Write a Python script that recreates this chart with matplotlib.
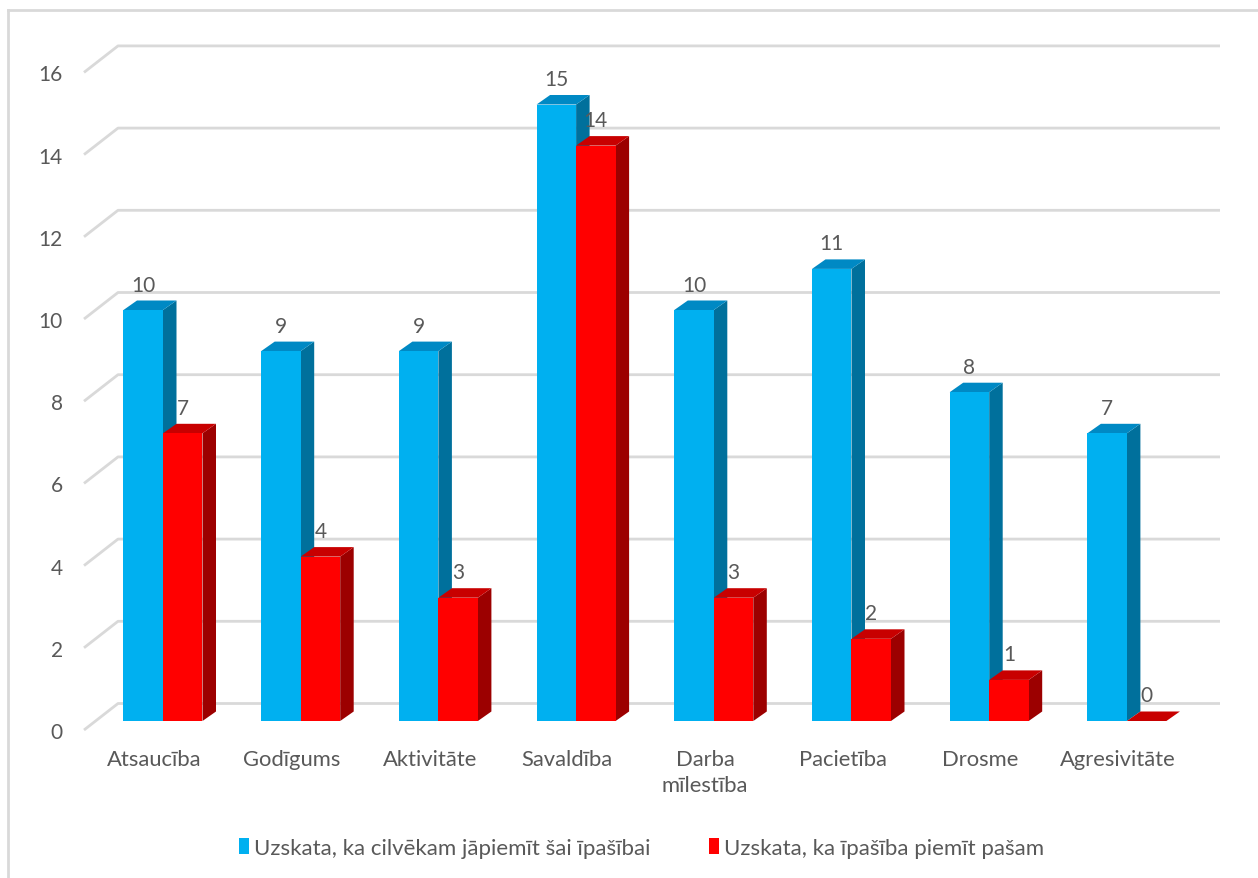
import numpy as np
import matplotlib.pyplot as plt
from matplotlib.patches import Polygon, Patch
from matplotlib.lines import Line2D

# ---------- data ---------- #
categories = ['Atsaucība', 'Godīgums', 'Aktivitāte', 'Savaldība',
              'Darba\nmīlestība', 'Pacietība', 'Drosme', 'Agresivitāte']
should_have = [10, 9, 9, 15, 10, 11, 8, 7]   # Uzskata, ka cilvēkam jāpiemīt šai īpašībai
have_self = [7, 4, 3, 14, 3, 2, 1, 0]         # Uzskata, ka īpašība piemīt pašam
series_names = ['Uzskata, ka cilvēkam jāpiemīt šai īpašībai',
                'Uzskata, ka īpašība piemīt pašam']
yticks = [0, 2, 4, 6, 8, 10, 12, 14, 16]

# ---------- styling ---------- #
plt.rcParams['font.family'] = ['Lato', 'DejaVu Sans']
txt_color = '#595959'
grid_color = '#D9D9D9'
blue = ('#00B0F0', '#0089C4', '#00709C')   # front, top, side
red = ('#FF0000', '#C80000', '#9C0000')

W, H = 1258, 879
fig = plt.figure(figsize=(W / 100, H / 100), dpi=100)
ax = fig.add_axes([0, 0, 1, 1])
ax.axis('off')

# pixel scale of the front plane: category i -> 151.5 + 137.7*i px, value v -> 731 - 41.1*v px (from top)
px_x, px_y = 137.7, 41.1
x0, y0 = 151.5, 731
ax.set_xlim(-x0 / px_x, (W - x0) / px_x)
ax.set_ylim(-(H - y0) / px_y, y0 / px_y)

back = (34 / px_x, 26.5 / px_y)      # floor depth
bar_off = (11.5 / px_x, 9 / px_y)    # bar front face behind front plane
depth = (13.5 / px_x, 9.5 / px_y)    # bar depth
bw = 39.5 / px_x                     # bar width
grid_left = (84 - x0) / px_x
grid_right = (1220 - x0) / px_x

# gridlines: diagonal at left + back wall line
for v in yticks:
    ax.plot([grid_left, grid_left + back[0], grid_right], [v, v + back[1], v + back[1]],
            color=grid_color, lw=2, solid_capstyle='butt', zorder=1)
    ax.text((63 - x0) / px_x, v - 2 / px_y, str(v), ha='right', va='center',
            fontsize=15, color=txt_color)


def bar3d(xl, val, cols):
    front, top, side = cols
    xb, yb = xl + bar_off[0], bar_off[1]
    dx, dy = depth
    ax.add_patch(Polygon([(xb + bw, yb), (xb + bw + dx, yb + dy), (xb + bw + dx, yb + val + dy),
                          (xb + bw, yb + val)], closed=True, fc=side, ec='none', zorder=3))
    ax.add_patch(Polygon([(xb, yb + val), (xb + bw, yb + val), (xb + bw + dx, yb + val + dy),
                          (xb + dx, yb + val + dy)], closed=True, fc=top, ec='none', zorder=3))
    if val > 0:
        ax.add_patch(Polygon([(xb, yb), (xb + bw, yb), (xb + bw, yb + val), (xb, yb + val)],
                             closed=True, fc=front, ec='none', zorder=3))
    ax.text(xb + bw / 2, yb + val + 25.5 / px_y, str(val), ha='center', va='center',
            fontsize=15, color=txt_color, zorder=5)


for i, (a, b) in enumerate(zip(should_have, have_self)):
    bar3d(i - bw, a, blue)
    bar3d(i, b, red)
    ax.text(i + 0.02, -(750 - y0) / px_y, categories[i], ha='center', va='top',
            fontsize=15.8, color=txt_color, linespacing=1.4)

# legend
handles = [Patch(fc=blue[0], ec='none'), Patch(fc=red[0], ec='none')]
fig.legend(handles, series_names, loc='center', bbox_to_anchor=(0.51, 1 - 849 / H), ncol=2,
           frameon=False, fontsize=16, labelcolor=txt_color, handlelength=0.45, handleheight=0.75,
           handletextpad=0.25, columnspacing=2.6)

# chart area border (left and top edges visible)
fig.add_artist(Line2D([8 / W, 8 / W], [0, 1 - 11 / H], color=grid_color, lw=2))
fig.add_artist(Line2D([8 / W, 1], [1 - 11 / H, 1 - 11 / H], color=grid_color, lw=2))

fig.savefig('out.png', dpi=100)
